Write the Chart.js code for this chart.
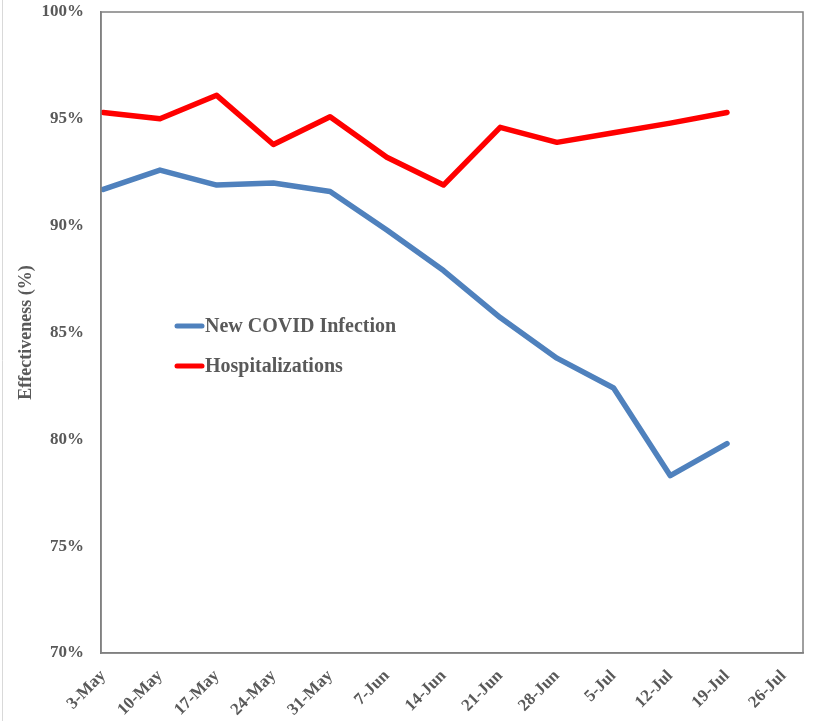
<!DOCTYPE html>
<html>
<head>
<meta charset="utf-8">
<script src="https://cdn.jsdelivr.net/npm/chart.js@4.4.1/dist/chart.umd.min.js"></script>
<style>
  html, body { margin: 0; padding: 0; background: #fff; }
  #wrap { width: 813px; height: 721px; position: relative; }
</style>
</head>
<body>
<div id="wrap"><canvas id="efectividad" width="813" height="721"></canvas></div>
<script>
const semanas = ['3-May', '10-May', '17-May', '24-May', '31-May', '7-Jun', '14-Jun',
    '21-Jun', '28-Jun', '5-Jul', '12-Jul', '19-Jul', '26-Jul'];
const infecciones = [91.7, 92.6, 91.9, 92.0, 91.6, 89.8, 87.9, 85.7, 83.8, 82.4, 78.3, 79.8];
const hospitalizaciones = [95.3, 95.0, 96.1, 93.8, 95.1, 93.2, 91.9, 94.6, 93.9, 94.35, 94.8, 95.3];
const ticksY = [70, 75, 80, 85, 90, 95, 100];

const gris = '#595959';
const fuente = 'Liberation Serif, Times New Roman, serif';

// marco del area de trazado + leyenda dentro del grafico
const marco = {
    id: 'marco',
    beforeDraw(chart) {
        const c = chart.ctx;
        c.save();
        c.strokeStyle = '#d9d9d9';
        c.lineWidth = 1;
        c.beginPath();
        c.moveTo(2.5, 0);
        c.lineTo(2.5, chart.height);
        c.stroke();
        c.restore();
    },
    afterDatasetsDraw(chart) {
        const a = chart.chartArea;
        const c = chart.ctx;
        c.save();
        c.strokeStyle = '#808080';
        c.lineWidth = 1.5;
        c.strokeRect(a.left, a.top, a.right - a.left, a.bottom - a.top);

        // leyenda
        c.font = 'bold 20px ' + fuente;
        c.textBaseline = 'middle';
        c.lineCap = 'round';
        chart.data.datasets.forEach((ds, i) => {
            const y = 326 + i * 40;
            c.strokeStyle = ds.borderColor;
            c.lineWidth = 5;
            c.beginPath();
            c.moveTo(177, y);
            c.lineTo(202, y);
            c.stroke();
            c.fillStyle = gris;
            c.fillText(ds.label, 205, y + 1);
        });
        c.restore();
    }
};

const ctx = document.getElementById('efectividad').getContext('2d');
new Chart(ctx, {
    type: 'line',
    data: {
        datasets: [{
            label: 'New COVID Infection',
            data: infecciones.map((v, i) => ({ x: i, y: v })),
            borderColor: '#4f81bd',
            borderWidth: 5.5,
            pointRadius: 0,
            borderJoinStyle: 'round',
            borderCapStyle: 'round',
            tension: 0
        }, {
            label: 'Hospitalizations',
            data: hospitalizaciones.map((v, i) => ({ x: i, y: v })),
            borderColor: '#ff0000',
            borderWidth: 5.5,
            pointRadius: 0,
            borderJoinStyle: 'round',
            borderCapStyle: 'round',
            tension: 0
        }]
    },
    options: {
        responsive: false,
        animation: false,
        devicePixelRatio: 1,
        layout: { padding: { top: 12, right: 10, left: 0, bottom: 0 } },
        plugins: {
            legend: { display: false },
            tooltip: { enabled: false }
        },
        scales: {
            x: {
                type: 'linear',
                min: -0.04,
                max: 12.34,
                afterBuildTicks: (axis) => { axis.ticks = semanas.map((_, i) => ({ value: i })); },
                afterFit: (axis) => { axis.height = 68; },
                grid: { display: false, drawTicks: false },
                border: { display: true, color: '#808080', width: 1.5 },
                ticks: {
                    callback: (v) => semanas[v],
                    autoSkip: false,
                    minRotation: 45,
                    maxRotation: 45,
                    padding: 13,
                    color: gris,
                    font: { family: fuente, size: 17, weight: 'bold' }
                }
            },
            y: {
                min: 70,
                max: 100,
                afterBuildTicks: (axis) => { axis.ticks = ticksY.map(v => ({ value: v })); },
                afterFit: (axis) => {
                    axis.width = 101;
                    axis.paddingTop = 0;
                    axis.paddingBottom = 0;
                },
                grid: { display: false, drawTicks: false },
                border: { display: true, color: '#808080', width: 1.5 },
                ticks: {
                    callback: (v) => v + '%',
                    padding: 17,
                    color: gris,
                    font: { family: fuente, size: 17, weight: 'bold' }
                },
                title: {
                    display: true,
                    text: 'Effectiveness (%)',
                    color: gris,
                    padding: { top: 16, bottom: 0 },
                    font: { family: fuente, size: 18, weight: 'bold' }
                }
            }
        }
    },
    plugins: [marco]
});
</script>
</body>
</html>
